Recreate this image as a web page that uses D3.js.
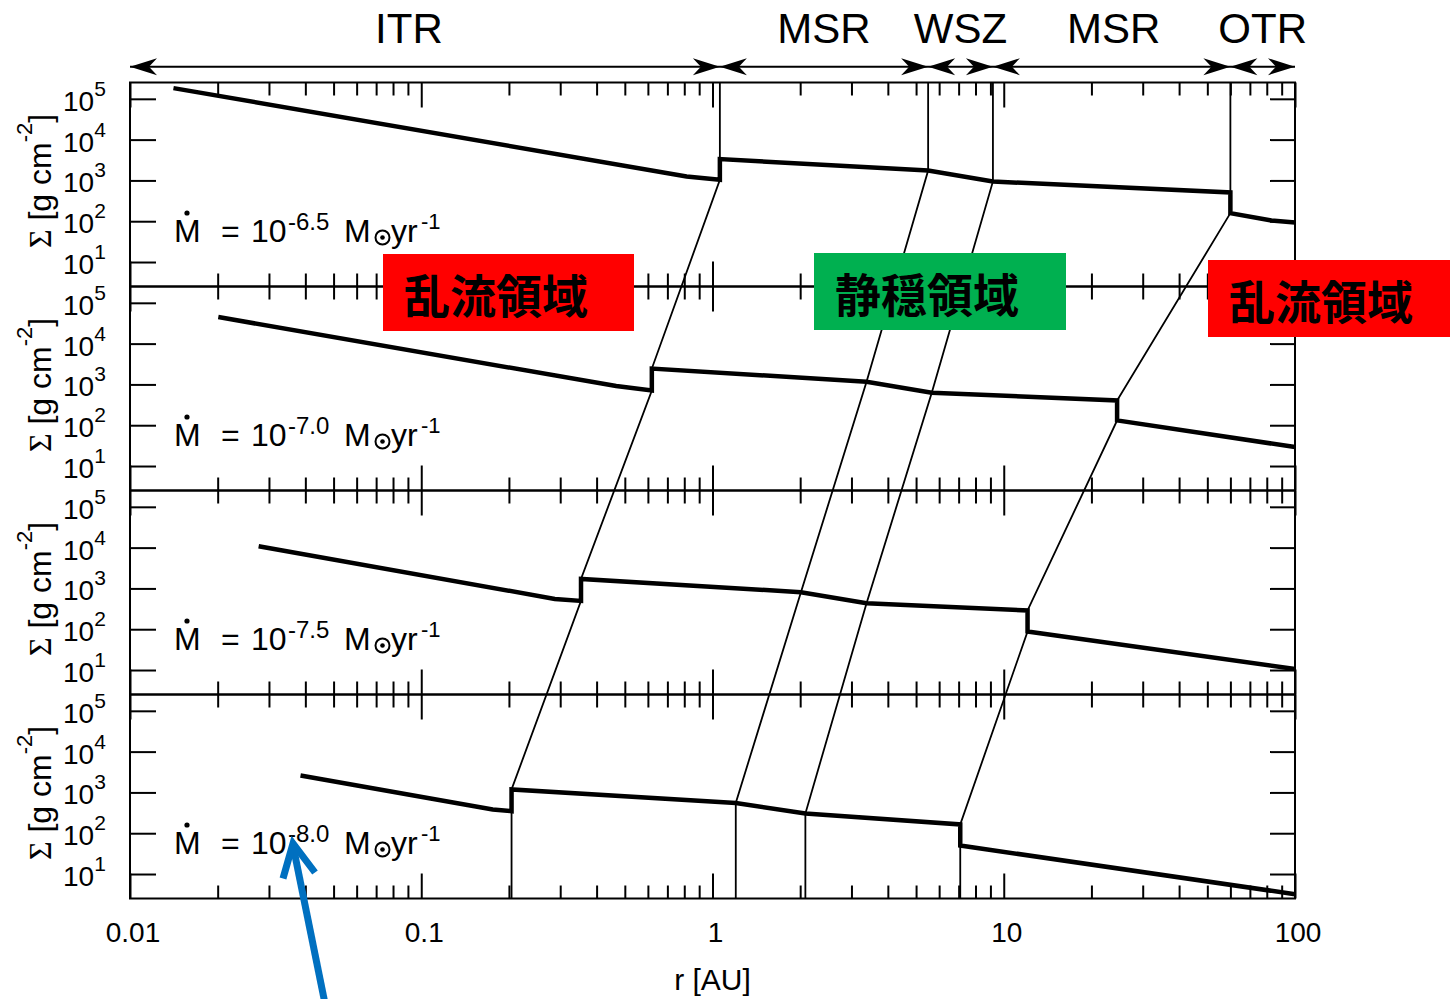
<!DOCTYPE html>
<html>
<head>
<meta charset="utf-8">
<script src="https://cdn.jsdelivr.net/npm/d3@7"></script>
<style>
  body { margin: 0; background: #fff; }
  svg { display: block; font-family: "Liberation Sans", Arial, Helvetica, sans-serif; }
</style>
</head>
<body>
<svg id="chart" width="1450" height="999"></svg>
<script>
// ---- Data: surface density profiles Σ(r) for four accretion rates ----
const mdotExponents = ["-6.5", "-7.0", "-7.5", "-8.0"];

const radius1 = [0.0141, 0.815, 1.06, 1.06, 5.50, 9.18, 60, 60, 83, 100];
const sigma1  = [183000, 1250, 1035, 3335, 1750, 942, 506, 158, 104, 93];

const radius2 = [0.0201, 0.467, 0.619, 0.619, 3.38, 5.66, 24.5, 24.5, 100];
const sigma2  = [44700, 910, 710, 2450, 1160, 624, 404, 131, 29.1];

const radius3 = [0.02765, 0.2875, 0.3536, 0.3536, 2.012, 3.38, 12.07, 12.07, 100];
const sigma3  = [10840, 553, 494, 1710, 807, 435, 288, 87.9, 10.6];

const radius4 = [0.0385, 0.176, 0.2042, 0.2042, 1.202, 2.084, 7.09, 7.09, 100];
const sigma4  = [2600, 381, 347, 1180, 553, 304, 164, 50, 3.2];

// Region boundary radii in each panel (top to bottom)
const itrEdge  = [1.06, 0.619, 0.3536, 0.2042];
const wszInner = [5.50, 3.38, 2.012, 1.202];
const wszOuter = [9.18, 5.66, 3.38, 2.084];
const otrEdge  = [60, 24.5, 12.07, 7.09];

const regionNames = ["ITR", "MSR", "WSZ", "MSR", "OTR"];
const xTickLabels = ["0.01", "0.1", "1", "10", "100"];
const yTickValues = [1e1, 1e2, 1e3, 1e4, 1e5];
const yTickExponents = ["1", "2", "3", "4", "5"];
const zoneLabels = ["乱流領域", "静穏領域", "乱流領域"];

// ---- Layout ----
const svg = d3.select("#chart");
const plotLeft = 130, plotRight = 1295, plotTop = 82.5, panelH = 204;
const regionLabelNudge = [-16, 0, 0, 2, 0];

const x = d3.scaleLog().domain([0.01, 100]).range([plotLeft, plotRight]);
const panelTop = i => plotTop + i * panelH;
const panelBottom = i => plotTop + (i + 1) * panelH;

const curves = [
  [radius1, sigma1], [radius2, sigma2], [radius3, sigma3], [radius4, sigma4]
].map(([rs, ss]) => rs.map((r, k) => ({ r: r, s: ss[k] })));

const yScales = curves.map((_, i) =>
  d3.scaleLog().domain([Math.pow(10, 0.4), Math.pow(10, 5.4)])
    .range([panelBottom(i), panelTop(i)]));

svg.append("rect").attr("width", 1450).attr("height", 999).attr("fill", "#fff");

// ---- Region boundary lines threading through the panels ----
const boundaryLayer = svg.append("g");
[itrEdge, wszInner, wszOuter, otrEdge].forEach(edge => {
  const pts = [[x(edge[0]), panelTop(0)]];
  edge.forEach((rb, p) => {
    const hits = curves[p].filter(d => d.r === rb)
      .map(d => [x(d.r), yScales[p](d.s)])
      .sort((a, b) => a[1] - b[1]);
    hits.forEach(h => pts.push(h));
  });
  pts.push([x(edge[3]), panelBottom(3)]);
  boundaryLayer.append("path")
    .attr("d", d3.line()(pts))
    .attr("fill", "none").attr("stroke", "#000").attr("stroke-width", 1.8);
});

// ---- Σ(r) curves ----
curves.forEach((c, i) => {
  const line = d3.line().x(d => x(d.r)).y(d => yScales[i](d.s));
  svg.append("path").datum(c)
    .attr("d", line)
    .attr("fill", "none").attr("stroke", "#000")
    .attr("stroke-width", 4.5).attr("stroke-linejoin", "miter");
});

// ---- Frames and ticks ----
const allX = x.ticks();
const majorX = allX.filter(v => Math.abs(Math.log10(v) - Math.round(Math.log10(v))) < 1e-9);
const minorX = allX.filter(v => !majorX.includes(v));

function styleAxis(g) {
  g.select(".domain").remove();
  g.selectAll(".tick line").attr("stroke", "#000").attr("stroke-width", 2);
  g.selectAll(".tick text").remove();
}

curves.forEach((_, i) => {
  const y = yScales[i];
  const top = panelTop(i), bot = panelBottom(i);

  svg.append("rect")
    .attr("x", plotLeft).attr("y", top)
    .attr("width", plotRight - plotLeft).attr("height", panelH)
    .attr("fill", "none").attr("stroke", "#000").attr("stroke-width", 2);

  [[minorX, 13], [majorX, 25]].forEach(([vals, len]) => {
    svg.append("g").attr("transform", `translate(0,${top})`)
      .call(d3.axisBottom(x).tickValues(vals).tickSize(len).tickSizeOuter(0).tickFormat(""))
      .call(styleAxis);
    svg.append("g").attr("transform", `translate(0,${bot})`)
      .call(d3.axisTop(x).tickValues(vals).tickSize(len).tickSizeOuter(0).tickFormat(""))
      .call(styleAxis);
  });

  svg.append("g").attr("transform", `translate(${plotLeft},0)`)
    .call(d3.axisRight(y).tickValues(yTickValues).tickSize(26).tickSizeOuter(0).tickFormat(""))
    .call(styleAxis);
  svg.append("g").attr("transform", `translate(${plotRight},0)`)
    .call(d3.axisLeft(y).tickValues(yTickValues).tickSize(25).tickSizeOuter(0).tickFormat(""))
    .call(styleAxis);

  // y tick labels: 10^n
  yTickValues.forEach((v, k) => {
    const t = svg.append("text")
      .attr("x", 63).attr("y", y(v) + 12)
      .attr("font-size", 28).attr("fill", "#000");
    t.append("tspan").text("10");
    t.append("tspan").attr("dy", -15).attr("font-size", 21).text(yTickExponents[k]);
  });

  // y axis title
  const cy = top + 98.5;
  const title = svg.append("text")
    .attr("transform", `translate(51,${cy}) rotate(-90)`)
    .attr("text-anchor", "middle").attr("font-size", 32).attr("fill", "#000");
  title.append("tspan").attr("font-family", '"Liberation Serif", "DejaVu Serif", serif').text("Σ");
  title.append("tspan").text(" [g cm");
  title.append("tspan").attr("dy", -19).attr("font-size", 22).text("-2");
  title.append("tspan").attr("dy", 19).text("]");

  // accretion-rate label
  const base = top + 159;
  const lab = svg.append("g").attr("fill", "#000").attr("font-size", 32);
  lab.append("text").attr("x", 174).attr("y", base).text("M");
  lab.append("circle").attr("cx", 187).attr("cy", base - 28.5).attr("r", 2.6);
  lab.append("text").attr("x", 221).attr("y", base).text("=");
  lab.append("text").attr("x", 251).attr("y", base).text("10");
  lab.append("text").attr("x", 288).attr("y", base - 12).attr("font-size", 24).text(mdotExponents[i]);
  lab.append("text").attr("x", 344).attr("y", base).text("M");
  lab.append("circle").attr("cx", 382.5).attr("cy", base - 4).attr("r", 7)
    .attr("fill", "none").attr("stroke", "#000").attr("stroke-width", 2);
  lab.append("circle").attr("cx", 382.5).attr("cy", base - 4).attr("r", 2.3);
  lab.append("text").attr("x", 391).attr("y", base).text("yr");
  lab.append("text").attr("x", 421).attr("y", base - 13).attr("font-size", 22).text("-1");
});

// ---- x tick labels and title ----
majorX.forEach((v, k) => {
  svg.append("text")
    .attr("x", x(v) + 3).attr("y", 941.5)
    .attr("text-anchor", "middle").attr("font-size", 28).attr("fill", "#000")
    .text(xTickLabels[k]);
});
svg.append("text")
  .attr("x", 712.5).attr("y", 990)
  .attr("text-anchor", "middle").attr("font-size", 30).attr("fill", "#000")
  .text("r [AU]");

// ---- Region arrows across the top ----
const arrowY = 66.7;
const edgesTop = [0.01, itrEdge[0], wszInner[0], wszOuter[0], otrEdge[0], 100];
svg.append("line")
  .attr("x1", x(0.01)).attr("x2", x(100))
  .attr("y1", arrowY).attr("y2", arrowY)
  .attr("stroke", "#000").attr("stroke-width", 2);
const headPath = "M0,0 L-27,-8.5 L-19,0 L-27,8.5 Z";
regionNames.forEach((name, k) => {
  const a = x(edgesTop[k]), b = x(edgesTop[k + 1]);
  svg.append("path").attr("d", headPath)
    .attr("transform", `translate(${a},${arrowY}) scale(-1,1)`).attr("fill", "#000");
  svg.append("path").attr("d", headPath)
    .attr("transform", `translate(${b},${arrowY})`).attr("fill", "#000");
  svg.append("text")
    .attr("x", (a + b) / 2 + regionLabelNudge[k]).attr("y", 43.3)
    .attr("text-anchor", "middle").attr("font-size", 42).attr("fill", "#000")
    .text(name);
});

// ---- Zone boxes ----
const zoneBoxes = [
  { x: 383, y: 254, w: 251, h: 77, fill: "#ff0000" },
  { x: 814, y: 253, w: 252, h: 77, fill: "#00b050" },
  { x: 1208, y: 260, w: 250, h: 77, fill: "#ff0000" }
];
zoneBoxes.forEach((b, k) => {
  svg.append("rect").attr("x", b.x).attr("y", b.y).attr("width", b.w).attr("height", b.h)
    .attr("fill", b.fill);
  svg.append("text")
    .attr("x", b.x + 21).attr("y", b.y + b.h / 2)
    .attr("dominant-baseline", "central")
    .attr("font-family", '"Noto Sans CJK JP", sans-serif')
    .attr("font-weight", 700).attr("font-size", 46).attr("fill", "#000")
    .text(zoneLabels[k]);
});

// ---- Pointer arrow to the lowest accretion rate ----
const tip = [293, panelTop(3) + 159 - 10];
const pointer = svg.append("g")
  .attr("stroke", "#0070c0").attr("stroke-width", 7).attr("fill", "none")
  .attr("stroke-linejoin", "miter");
pointer.append("line")
  .attr("x1", tip[0] + 32).attr("y1", tip[1] + 160)
  .attr("x2", tip[0]).attr("y2", tip[1] + 2);
pointer.append("path")
  .attr("d", d3.line()([[tip[0] - 10, tip[1] + 35], [tip[0], tip[1]], [tip[0] + 22, tip[1] + 29]]));
</script>
</body>
</html>
